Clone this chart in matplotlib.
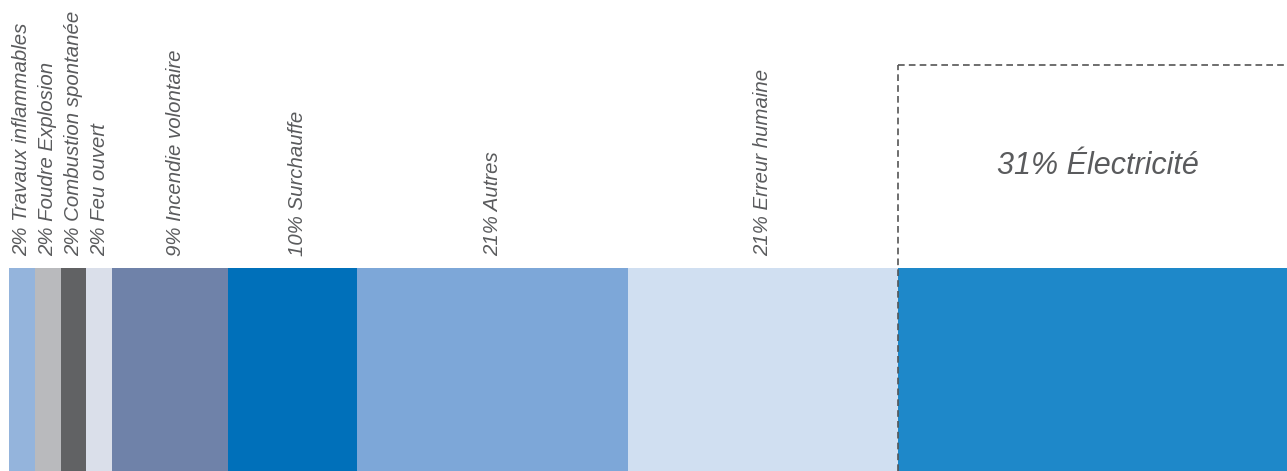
import matplotlib.pyplot as plt

labels = ['Travaux inflammables', 'Foudre Explosion', 'Combustion spontanée', 'Feu ouvert',
          'Incendie volontaire', 'Surchauffe', 'Autres', 'Erreur humaine', 'Électricité']
values = [2, 2, 2, 2, 9, 10, 21, 21, 31]
colors = ['#94b4dc', '#b9babd', '#616264', '#dadfea', '#6f82a9',
          '#0070ba', '#7da7d8', '#d0dff1', '#1e88c9']
# small horizontal nudges of the labels (in % units)
nudge = [0, 0, 0, 0, 0.45, 0.35, 0, 0, 0]

plt.rcParams['font.family'] = ['Liberation Sans', 'DejaVu Sans']
text_color = '#5a5b5d'

fig = plt.figure(figsize=(12.87, 4.71), dpi=100)
# bar runs slightly past the right edge of the picture
ax = fig.add_axes([9 / 1287, 0, 1289 / 1287, 1])
ax.set_xlim(0, 100)
ax.set_ylim(0, 471)
ax.axis('off')

bar_h = 203
left = 0
for lab, v, c, dx in zip(labels, values, colors, nudge):
    ax.barh(0, v, left=left, height=bar_h, align='edge', color=c, linewidth=0)
    center = left + v / 2 + dx
    if lab == 'Électricité':
        start = left
    else:
        ax.text(center, 471 - 256, f'{v}% {lab}', rotation=90, ha='center', va='bottom',
                fontsize=14.7, style='italic', color=text_color)
    left += v

# dashed highlight box around the largest segment
box_top = 471 - 65
ax.plot([start, start], [0, box_top], ls=(0, (4, 2.5)), color='#555555', lw=1.2, clip_on=False)
ax.plot([start, 100.5], [box_top, box_top], ls=(0, (4, 2.5)), color='#555555', lw=1.2, clip_on=False)
ax.text(start + 15.5, (box_top + bar_h) / 2, f'{values[-1]}% {labels[-1]}',
        ha='center', va='center', fontsize=22, style='italic', color=text_color)

fig.savefig('out.png', dpi=100)
